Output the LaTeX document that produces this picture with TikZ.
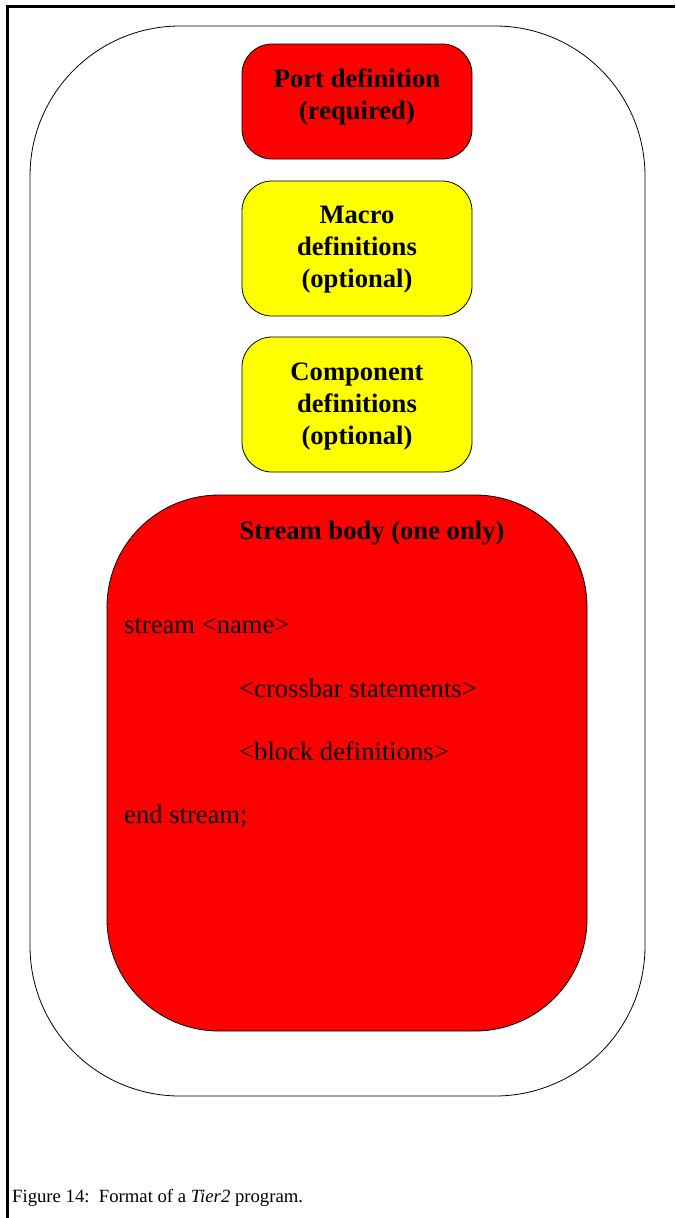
\documentclass[tikz,border=0pt]{standalone}
\usepackage{fontspec}
\setmainfont{Liberation Serif}
\definecolor{boxred}{RGB}{255,0,0}
\definecolor{boxyellow}{RGB}{255,255,0}
\begin{document}
\begin{tikzpicture}[x=1pt,y=-1pt,
  box/.style={draw=black, line width=0.8pt, inner sep=0pt, outer sep=0pt},
  smallbox/.style={box, rounded corners=30pt, minimum width=230pt},
  boldtxt/.style={font=\fontsize{26.6}{32}\selectfont\bfseries, inner sep=0pt, anchor=base},
  bodytxt/.style={font=\fontsize{26.6}{32}\selectfont, inner sep=0pt, anchor=base west},
]
\useasboundingbox (0,0) rectangle (675,1218);
% page frame
\coordinate (ftl) at (7.5,6.5);
\coordinate (ftr) at (675,6.5);
\coordinate (fbl) at (7.5,1218);
\draw[line width=2.4pt] (fbl) -- (ftl) -- (ftr);
% outer rounded box
\node[box, fill=white, rounded corners=150pt, minimum width=615pt, minimum height=1070pt] (outer) at (337.5,561) {};
% port definition
\node[smallbox, fill=boxred, minimum height=115pt] (port) at (357,101.5) {};
\node[boldtxt] (portA) at (357,87) {Port definition};
\node[boldtxt] (portB) at (357,119) {(required)};
% macro definitions
\node[smallbox, fill=boxyellow, minimum height=135pt] (macro) at (357,248.5) {};
\node[boldtxt] (macroA) at (357,223) {Macro};
\node[boldtxt] (macroB) at (357,255) {definitions};
\node[boldtxt] (macroC) at (357,287) {(optional)};
% component definitions
\node[smallbox, fill=boxyellow, minimum height=135pt] (comp) at (357,404.5) {};
\node[boldtxt] (compA) at (357,380) {Component};
\node[boldtxt] (compB) at (357,412) {definitions};
\node[boldtxt] (compC) at (357,444) {(optional)};
% stream body
\node[box, fill=boxred, rounded corners=112pt, minimum width=480pt, minimum height=536pt] (stream) at (347,763) {};
\node[boldtxt] (streamT) at (372,539) {Stream body (one only)};
\node[bodytxt] (s1) at (124,633) {stream <name>};
\node[bodytxt] (s2) at (239,697) {<crossbar statements>};
\node[bodytxt] (s3) at (239,760) {<block definitions>};
\node[bodytxt] (s4) at (124,823) {end stream;};
% caption
\node[font=\fontsize{18.7}{22}\selectfont, inner sep=0pt, anchor=base west] (cap) at (12,1202) {Figure 14:\ \ Format of a \textit{Tier2} program.};
\end{tikzpicture}
\end{document}
